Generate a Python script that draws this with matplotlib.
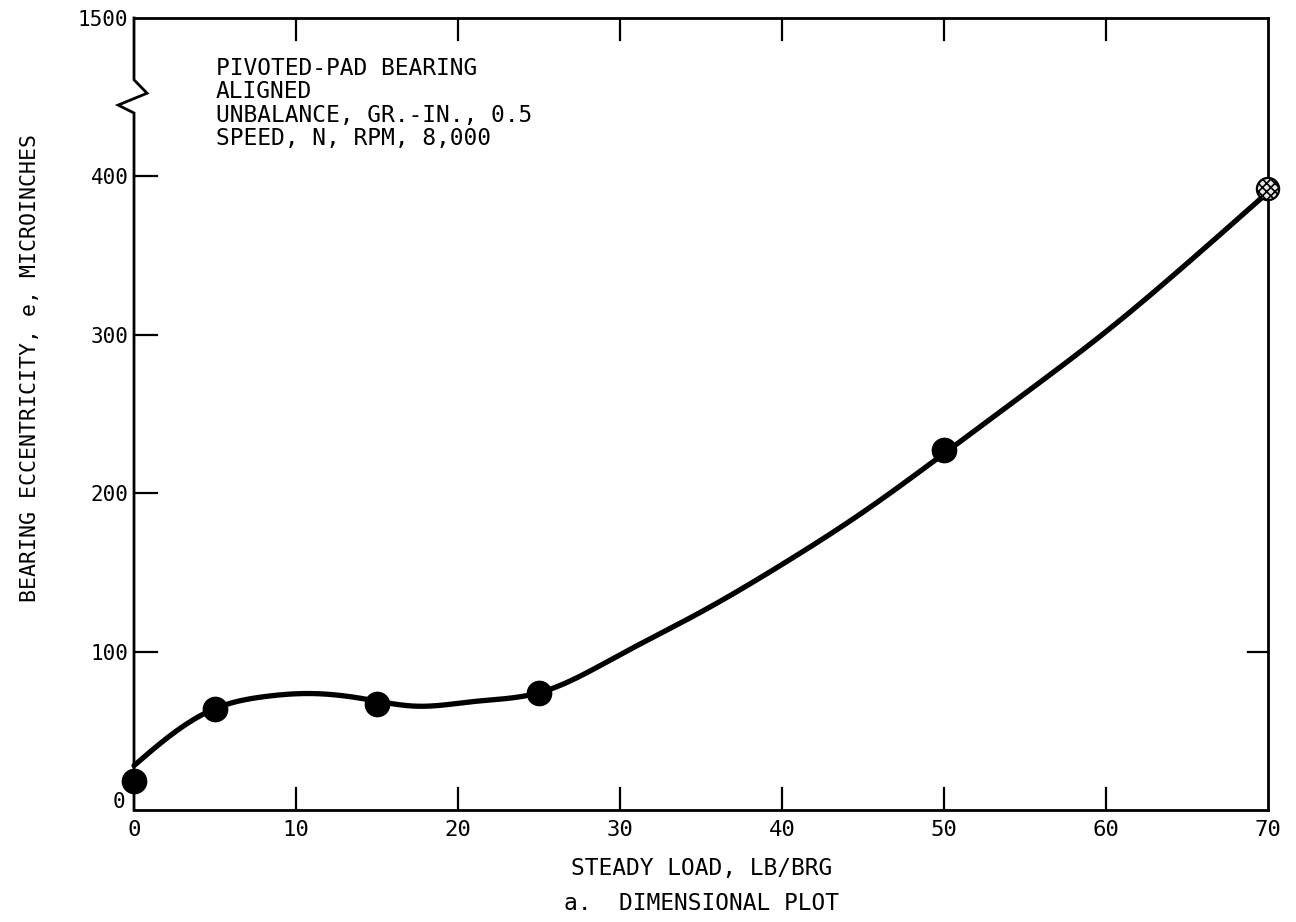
import numpy as np
import matplotlib
matplotlib.use("Agg")
import matplotlib.pyplot as plt
import matplotlib.transforms as mtransforms

# Measured points: steady load (lb/brg) vs bearing eccentricity (microinches)
load = [0, 5, 15, 25, 50]
eccentricity = [18, 64, 67, 74, 227]
# Estimated point at the end of the curve
load_est = [70]
eccentricity_est = [392]

# Faired curve drawn through the data
curve_load = [0, 2.5, 5, 8, 11, 14, 17.5, 21, 25, 30, 35, 40, 45, 50, 55, 60, 65, 70]
curve_ecc = [28, 49, 64, 71.5, 73.5, 70.5, 65.5, 68.5, 74, 98, 125, 155, 188, 225, 263, 302, 345, 390]

x_ticks = [0, 10, 20, 30, 40, 50, 60, 70]
y_ticks = [0, 100, 200, 300, 400, 500]
y_tick_labels = ["0", "100", "200", "300", "400", "1500"]

notes = ["PIVOTED-PAD BEARING", "ALIGNED", "UNBALANCE, GR.-IN., 0.5", "SPEED, N, RPM, 8,000"]


def natural_spline(x, y, xs):
    x = np.asarray(x, float)
    y = np.asarray(y, float)
    n = len(x)
    h = np.diff(x)
    A = np.zeros((n, n))
    r = np.zeros(n)
    A[0, 0] = A[-1, -1] = 1.0
    for i in range(1, n - 1):
        A[i, i - 1] = h[i - 1]
        A[i, i] = 2 * (h[i - 1] + h[i])
        A[i, i + 1] = h[i]
        r[i] = 3 * ((y[i + 1] - y[i]) / h[i] - (y[i] - y[i - 1]) / h[i - 1])
    c = np.linalg.solve(A, r)
    b = (y[1:] - y[:-1]) / h - h * (2 * c[:-1] + c[1:]) / 3
    d = (c[1:] - c[:-1]) / (3 * h)
    idx = np.clip(np.searchsorted(x, xs) - 1, 0, n - 2)
    dx = xs - x[idx]
    return y[idx] + b[idx] * dx + c[idx] * dx ** 2 + d[idx] * dx ** 3


MONO = "DejaVu Sans Mono"
plt.rcParams["font.family"] = MONO
plt.rcParams["hatch.linewidth"] = 1.2

fig = plt.figure(figsize=(12.96, 9.22), dpi=100)
ax = fig.add_axes([0.1034, 0.1215, 0.875, 0.859])

xs = np.linspace(curve_load[0], curve_load[-1], 600)
ax.plot(xs, natural_spline(curve_load, curve_ecc, xs), color="black", lw=3.8,
        solid_capstyle="round", clip_on=False, zorder=3)
ax.plot(load, eccentricity, "o", ms=17.5, color="black", clip_on=False, zorder=4)
ax.scatter(load_est, eccentricity_est, s=16 ** 2, facecolor="#e6e6e6",
           edgecolor="black", linewidth=1.6, hatch="xxxx", clip_on=False, zorder=4)

ax.set_xlim(0, 70)
ax.set_ylim(0, 500)

ax.set_xticks(x_ticks)
ax.set_xticklabels([str(v) for v in x_ticks], fontsize=16)
ax.set_yticks(y_ticks)
ax.set_yticklabels(y_tick_labels, fontsize=15)
ax.tick_params(axis="both", direction="in", length=0, pad=4, colors="black")
ax.tick_params(axis="x", pad=7)

# Inward tick marks drawn along the frame
for v in x_ticks[1:-1]:
    ax.plot([v, v], [0, 0.028], transform=ax.get_xaxis_transform(), color="black", lw=1.6)
    ax.plot([v, v], [1, 0.972], transform=ax.get_xaxis_transform(), color="black", lw=1.6)
for v in y_ticks[1:-1]:
    ax.plot([0, 0.02], [v, v], transform=ax.get_yaxis_transform(), color="black", lw=1.6)
for v in [100]:
    ax.plot([1, 0.982], [v, v], transform=ax.get_yaxis_transform(), color="black", lw=1.6)

# Frame with a broken left axis
ax.spines["left"].set_visible(False)
for side in ["top", "right", "bottom"]:
    ax.spines[side].set_linewidth(2.0)
ax.plot([0, 0, -0.014, 0.0115, 0, 0], [0, 0.880, 0.890, 0.905, 0.922, 1.0],
        transform=ax.transAxes, color="black", lw=2.0, clip_on=False,
        solid_joinstyle="miter")

# Shift the zero label up a little
lbl0 = ax.get_yticklabels()[0]
lbl0.set_transform(lbl0.get_transform() + mtransforms.ScaledTranslation(-0.03, 0.10, fig.dpi_scale_trans))

ax.text(0.072, 0.951, "\n".join(notes), transform=ax.transAxes, fontsize=16.5,
        va="top", ha="left", linespacing=1.03)

fig.text(702 / 1296, 1 - 868 / 922, "STEADY LOAD, LB/BRG", fontsize=16.5, ha="center", va="center")
fig.text(701 / 1296, 1 - 903 / 922, "a.  DIMENSIONAL PLOT", fontsize=16.5, ha="center", va="center")
fig.text(30 / 1296, 1 - 368 / 922, "BEARING ECCENTRICITY, e, MICROINCHES", fontsize=15.5,
         rotation=90, ha="center", va="center")

fig.savefig("out.png", dpi=100, facecolor="white")
